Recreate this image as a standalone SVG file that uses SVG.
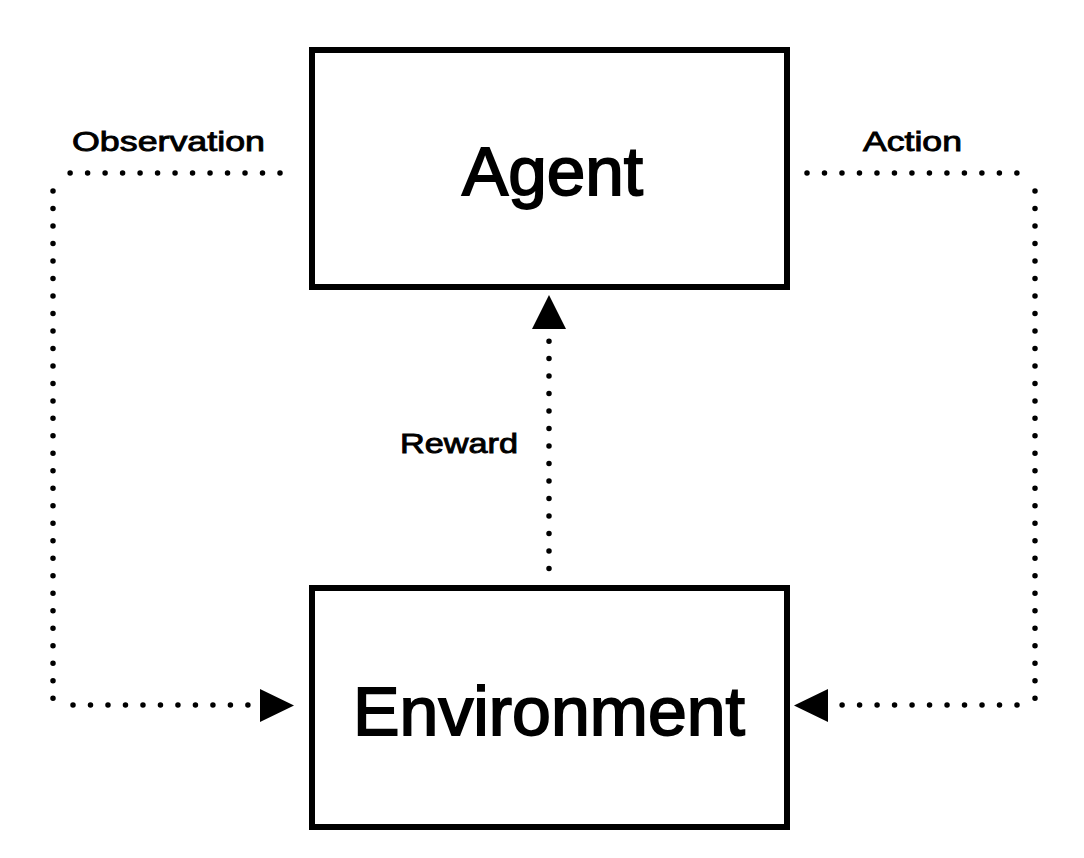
<svg xmlns="http://www.w3.org/2000/svg" width="1084" height="858" viewBox="0 0 1084 858">
<style>
.box{fill:#fff;stroke:#000;stroke-width:6}
.big{font-family:"Liberation Sans",Arial,sans-serif;font-size:68px;fill:#000;stroke:#000;stroke-width:1.8}
.lbl{font-family:"Liberation Sans",Arial,sans-serif;font-size:28px;fill:#000;stroke:#000;stroke-width:0.9}
.dot{fill:none;stroke:#000;stroke-width:5.5;stroke-linecap:round;stroke-dasharray:0 17.49}
.head{fill:#000}
</style>
<rect width="1084" height="858" fill="#fff"/>
<g id="connectors">
  <line class="dot" x1="280" y1="173" x2="69.5" y2="173"/>
  <line class="dot" x1="53" y1="191" x2="53" y2="699"/>
  <line class="dot" x1="73" y1="705" x2="248.5" y2="705"/>
  <polygon class="head" points="260,689 294,705.5 260,722"/>
  <line class="dot" x1="807" y1="173" x2="1017.5" y2="173"/>
  <line class="dot" x1="1035" y1="191" x2="1035" y2="699"/>
  <line class="dot" x1="1017" y1="705" x2="841.5" y2="705"/>
  <polygon class="head" points="828,689 794,705.5 828,722"/>
  <line class="dot" x1="549" y1="568.5" x2="549" y2="340.5"/>
  <polygon class="head" points="532,329 549,295 566,329"/>
  <text class="lbl" x="72" y="151" textLength="193" lengthAdjust="spacingAndGlyphs">Observation</text>
  <text class="lbl" x="863" y="151" textLength="99" lengthAdjust="spacingAndGlyphs">Action</text>
  <text class="lbl" x="400" y="453" textLength="118" lengthAdjust="spacingAndGlyphs">Reward</text>
</g>
<g id="agent">
  <rect class="box" x="312" y="50" width="475" height="237"/>
  <text class="big" x="462" y="195" textLength="181" lengthAdjust="spacingAndGlyphs">Agent</text>
</g>
<g id="environment">
  <rect class="box" x="312" y="588" width="475" height="239"/>
  <text class="big" x="353" y="735" textLength="392" lengthAdjust="spacingAndGlyphs">Environment</text>
</g>
</svg>
